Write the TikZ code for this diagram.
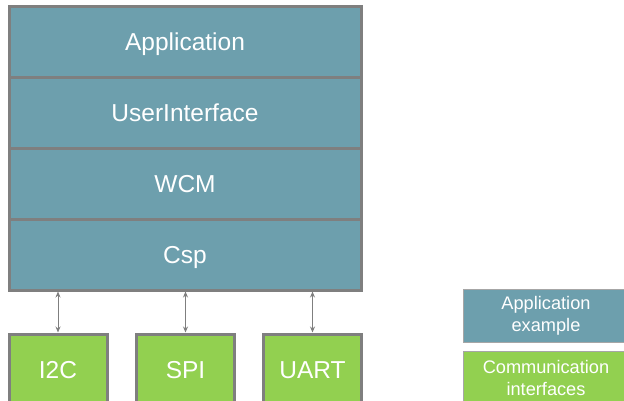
\documentclass[tikz,border=0pt]{standalone}
\usepackage{fontspec}
\setmainfont{Liberation Sans}
\usetikzlibrary{arrows.meta}
\definecolor{teal}{HTML}{6D9FAD}
\definecolor{lgreen}{HTML}{92D050}
\definecolor{bord}{HTML}{7F7F7F}
\definecolor{lbord}{HTML}{A6A6A6}
\tikzset{
  big/.style={font=\fontsize{24.5}{28}\selectfont, text height=17.5pt, text depth=0pt},
  layer/.style={big, draw=bord, line width=3pt, fill=teal, text=white, minimum width=352pt, minimum height=71pt, inner sep=0pt},
  iface/.style={big, draw=bord, line width=3pt, fill=lgreen, text=white, minimum width=98pt, minimum height=72pt, inner sep=0pt},
  legend/.style={draw=lbord, line width=1pt, minimum width=166pt, inner sep=0pt, text=white, align=center, font=\fontsize{18.2}{22}\selectfont},
  link/.style={draw=bord, line width=0.9pt, {Stealth[length=6pt,width=5pt]}-{Stealth[length=6pt,width=5pt]}}
}
\begin{document}
\begin{tikzpicture}[x=1pt,y=-1pt]
\useasboundingbox (0,0) rectangle (624,400);
\clip (0,0) rectangle (624,400);
\node[layer] (app) at (185,41.5) {Application};
\node[layer] (ui) at (185,112.5) {UserInterface};
\node[layer] (wcm) at (185,183.5) {WCM};
\node[layer] (csp) at (185,254.5) {Csp};
\node[iface] (i2c) at (58,370) {I2C};
\node[iface] (spi) at (185.5,370) {SPI};
\node[iface] (uart) at (312.5,370) {UART};
\draw[link] (i2c.north) -- (i2c.north |- csp.south);
\draw[link] (spi.north) -- (spi.north |- csp.south);
\draw[link] (uart.north) -- (uart.north |- csp.south);
\node[legend, fill=teal, minimum height=53pt] (lapp) at (546,315.5) {Application\\example};
\node[legend, fill=lgreen, minimum height=53pt] (lcom) at (546,377.5) {Communication\\interfaces};
\end{tikzpicture}
\end{document}
